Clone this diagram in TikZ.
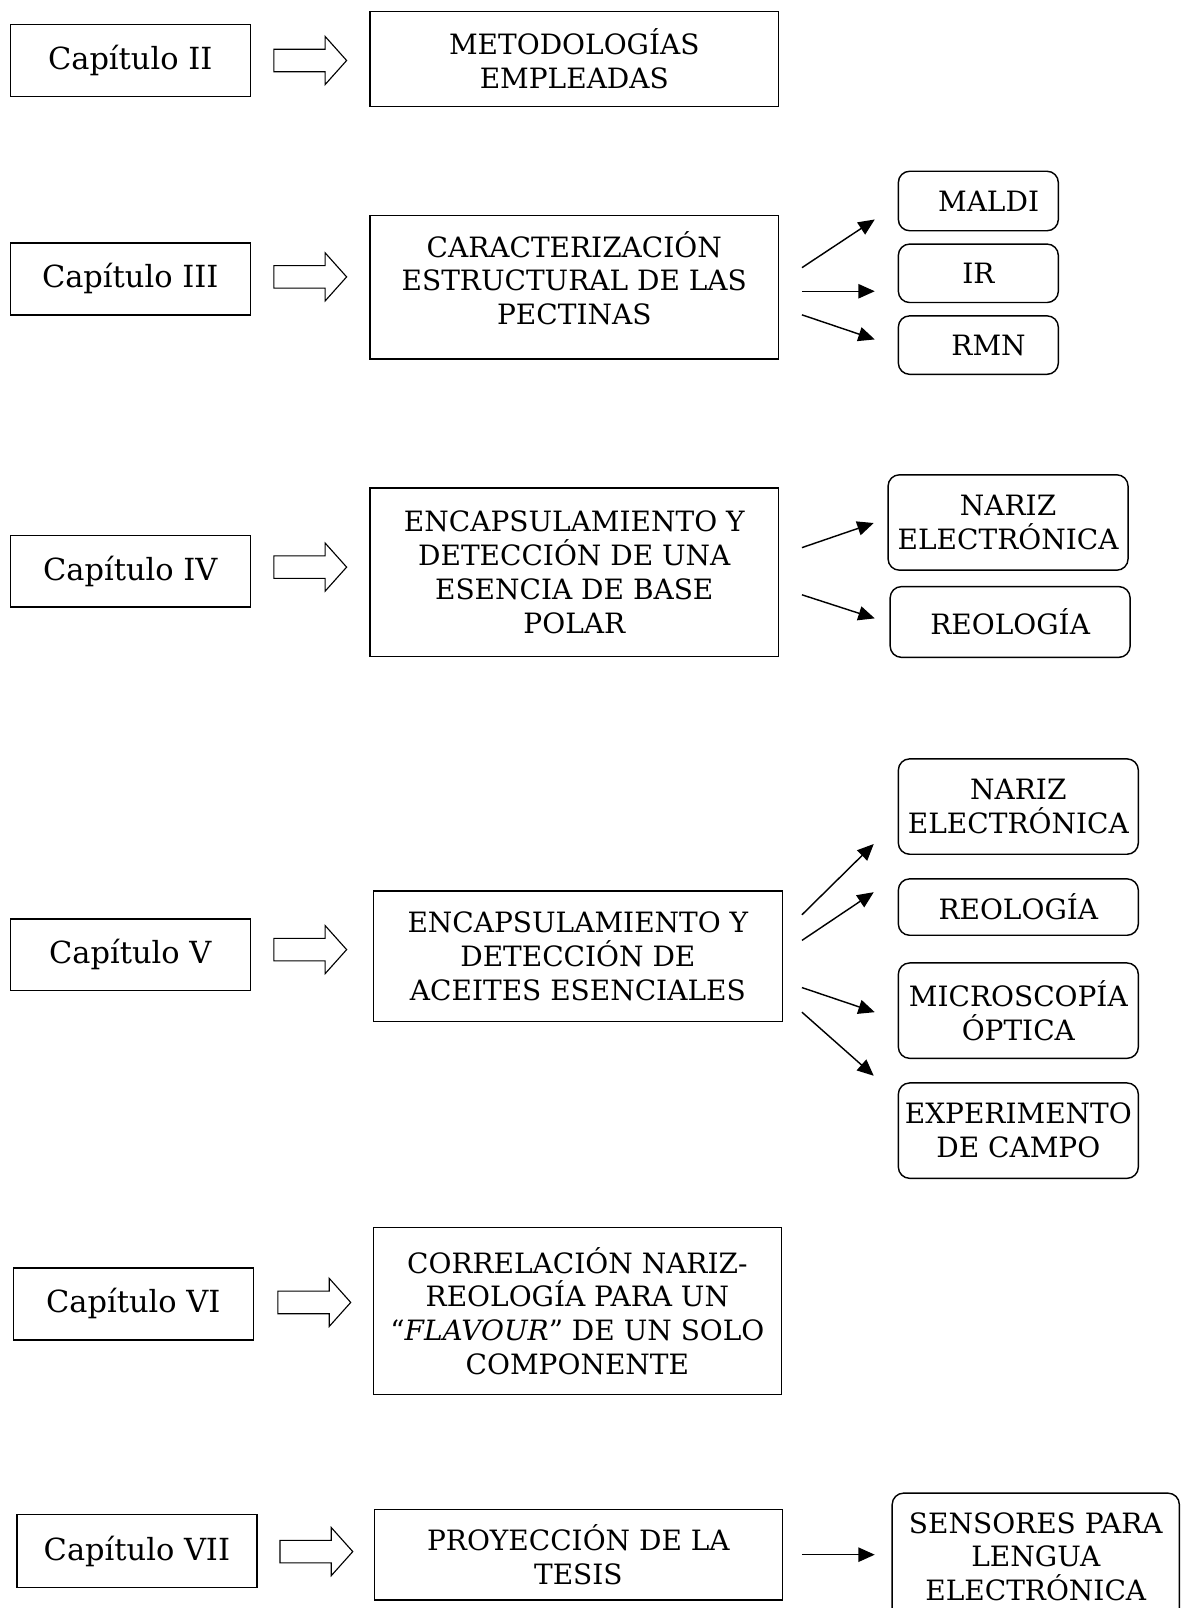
\documentclass[tikz,border=0pt]{standalone}
\usepackage{fontspec}
\setmainfont{DejaVu Serif}
\usetikzlibrary{arrows.meta}
\newcommand\hollowarr[2]{%
  \draw[hollow] (#1,#2-11) -- (#1+50,#2-11) -- (#1+50,#2-23.5) -- (#1+71,#2)
    -- (#1+50,#2+23.5) -- (#1+50,#2+11) -- (#1,#2+11) -- cycle;}
\begin{document}
\begin{tikzpicture}[x=1pt,y=-1pt,
  chapbox/.style={draw, line width=1.4pt, minimum width=234pt, minimum height=70pt,
    inner sep=0pt, font=\fontsize{29.7}{33}\selectfont},
  mainbox/.style={draw, line width=1.4pt, minimum width=398pt, align=center,
    inner sep=0pt, font=\fontsize{27.3}{33}\selectfont},
  techbox/.style={draw, rounded corners=11pt, line width=1.4pt, align=center,
    inner sep=0pt, font=\fontsize{27.3}{33}\selectfont},
  thinarr/.style={-{Triangle[length=16pt,width=14pt]}, line width=1.4pt},
  hollow/.style={draw, line width=1.1pt, fill=white}]
\useasboundingbox (0,0) rectangle (1153,1568);

% Chapter boxes
\node[chapbox] (c2) at (127,59) {Capítulo II};
\node[chapbox] (c3) at (127,272) {Capítulo III};
\node[chapbox] (c4) at (127,557) {Capítulo IV};
\node[chapbox] (c5) at (127,931) {Capítulo V};
\node[chapbox] (c6) at (130,1271.5) {Capítulo VI};
\node[chapbox, minimum height=71pt] (c7) at (133.5,1512.5) {Capítulo VII};

% Hollow arrows
\hollowarr{267}{59}
\hollowarr{267}{270}
\hollowarr{267}{553}
\hollowarr{267}{926}
\hollowarr{271}{1270}
\hollowarr{273}{1513}

% Main boxes
\node[mainbox, minimum height=93pt] (m2) at (560,57.5) {METODOLOGÍAS\\EMPLEADAS};
\node[mainbox, minimum height=140pt] (m3) at (560,280) {CARACTERIZACIÓN\\ESTRUCTURAL DE LAS\\PECTINAS\\[-15pt]\mbox{}};
\node[mainbox, minimum height=164pt] (m4) at (560,558) {ENCAPSULAMIENTO Y\\DETECCIÓN DE UNA\\ESENCIA DE BASE\\POLAR};
\node[mainbox, minimum width=399pt, minimum height=127pt] (m5) at (563.5,932.5) {ENCAPSULAMIENTO Y\\DETECCIÓN DE\\ACEITES ESENCIALES};
\node[mainbox, minimum height=163pt] (m6) at (563,1278.5) {CORRELACIÓN NARIZ-\\REOLOGÍA PARA UN\\“\textit{FLAVOUR}” DE UN SOLO\\COMPONENTE};
\node[mainbox, minimum height=88pt] (m7) at (564,1516) {PROYECCIÓN DE LA\\TESIS};

% Technique boxes
\node[techbox, minimum width=156pt, minimum height=58pt] (maldi) at (954,196) {\hspace*{20pt}MALDI};
\node[techbox, minimum width=156pt, minimum height=57pt] (ir) at (954,266.5) {IR};
\node[techbox, minimum width=156pt, minimum height=57pt] (rmn) at (954,336.5) {\hspace*{20pt}RMN};
\node[techbox, minimum width=234pt, minimum height=93pt] (nariz4) at (983,509.5) {NARIZ\\ELECTRÓNICA};
\node[techbox, minimum width=234pt, minimum height=69pt] (reo4) at (985,606.5) {REOLOGÍA};
\node[techbox, minimum width=234pt, minimum height=93pt] (nariz5) at (993,786.5) {NARIZ\\ELECTRÓNICA};
\node[techbox, minimum width=234pt, minimum height=55pt] (reo5) at (993,884.5) {REOLOGÍA};
\node[techbox, minimum width=234pt, minimum height=93pt] (micro) at (993,985.5) {MICROSCOPÍA\\ÓPTICA};
\node[techbox, minimum width=234pt, minimum height=93pt] (exper) at (993,1102.5) {EXPERIMENTO\\DE CAMPO};
\node[techbox, minimum width=280pt, minimum height=124pt] (sens) at (1010,1518) {SENSORES PARA\\LENGUA\\ELECTRÓNICA};

% Thin arrow end points
\coordinate (s3a) at (782,261); \coordinate (e3a) at (853,214);
\coordinate (s3b) at (782,284); \coordinate (e3b) at (853,284);
\coordinate (s3c) at (782,307); \coordinate (e3c) at (853,331);
\coordinate (s4a) at (782,534); \coordinate (e4a) at (852,510);
\coordinate (s4b) at (782,580); \coordinate (e4b) at (853,603);
\coordinate (s5a) at (782,892); \coordinate (e5a) at (852,823);
\coordinate (s5b) at (782,917); \coordinate (e5b) at (852,870);
\coordinate (s5c) at (782,963); \coordinate (e5c) at (853,987);
\coordinate (s5d) at (782,987); \coordinate (e5d) at (852,1049);
\coordinate (s7) at (782,1516); \coordinate (e7) at (853,1516);

\draw[thinarr] (s3a) -- (e3a);
\draw[thinarr] (s3b) -- (e3b);
\draw[thinarr] (s3c) -- (e3c);
\draw[thinarr] (s4a) -- (e4a);
\draw[thinarr] (s4b) -- (e4b);
\draw[thinarr] (s5a) -- (e5a);
\draw[thinarr] (s5b) -- (e5b);
\draw[thinarr] (s5c) -- (e5c);
\draw[thinarr] (s5d) -- (e5d);
\draw[thinarr] (s7) -- (e7);
\end{tikzpicture}
\end{document}
